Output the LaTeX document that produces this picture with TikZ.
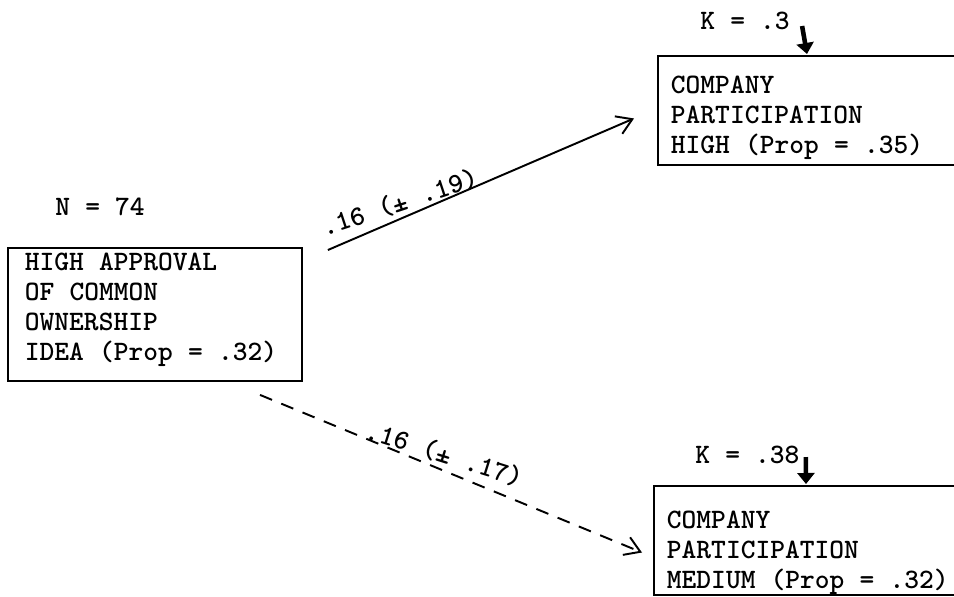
\documentclass[tikz,border=0pt]{standalone}
\usepackage{tikz}
\usetikzlibrary{calc,positioning,arrows.meta}
\newcommand\typefont{\ttfamily\bfseries\fontsize{16}{17.07}\selectfont\spaceskip 0.54em\relax}

\begin{document}
\begin{tikzpicture}[
  x=0.02cm, y=-0.02cm,
  every node/.style={font=\typefont},
  varbox/.style 2 args={draw, line width=1.1pt, anchor=north west, align=left,
    inner xsep=0.26cm, inner ysep=0pt,
    execute at begin node={\spaceskip 0.54em\relax\rule{0pt}{#1}},
    execute at end node={\rule[-#2]{0pt}{#2}}},
  klabel/.style={anchor=base west, inner sep=0pt},
  kick/.style={line width=2.6pt, -{Triangle[length=0.22cm,width=0.34cm]}},
  effect/.style={line width=1.1pt, -{Straight Barb[length=0.3cm,width=0.38cm]}},
  coef/.style={sloped, above, inner sep=2pt}
]
\useasboundingbox (0,0) rectangle (954,596);

\node[klabel] (n) at (55,215) {N = 74};
\node[varbox={0.46cm}{0.4cm}, inner xsep=0.34cm, text width=5.2cm] (approval) at (7,247)
  {HIGH APPROVAL\\OF COMMON\\OWNERSHIP\\IDEA (Prop = .32)};

\node[klabel] (khigh) at (700,29) {K = .3};
\node[varbox={0.76cm}{0.22cm}, text width=5.9cm] (high) at (657,55)
  {COMPANY\\PARTICIPATION\\HIGH (Prop = .35)};

\node[klabel] (kmedium) at (695,463) {K = .38};
\node[varbox={0.86cm}{0.1cm}, text width=5.9cm] (medium) at (653,485)
  {COMPANY\\PARTICIPATION\\MEDIUM (Prop = .32)};

\draw[kick] ($(khigh.base east)+(12,-3)$) -- ($(high.north west)+(150,-1)$);
\draw[kick] ($(kmedium.base east)+(6,-6)$) -- ($(medium.north west)+(153,-1)$);

\draw[effect] ($(approval.north east)+(25,3)$) --
  node[coef, pos=0.25, rotate=-5] {.16 (± .19)} ($(high.west)+(-23,8)$);
\draw[effect, dash pattern=on 0.26cm off 0.2cm] ($(approval.south west)+(253,13)$) --
  node[coef, pos=0.47, rotate=5] {.16 (± .17)} ($(medium.west)+(-11,12)$);
\end{tikzpicture}
\end{document}
